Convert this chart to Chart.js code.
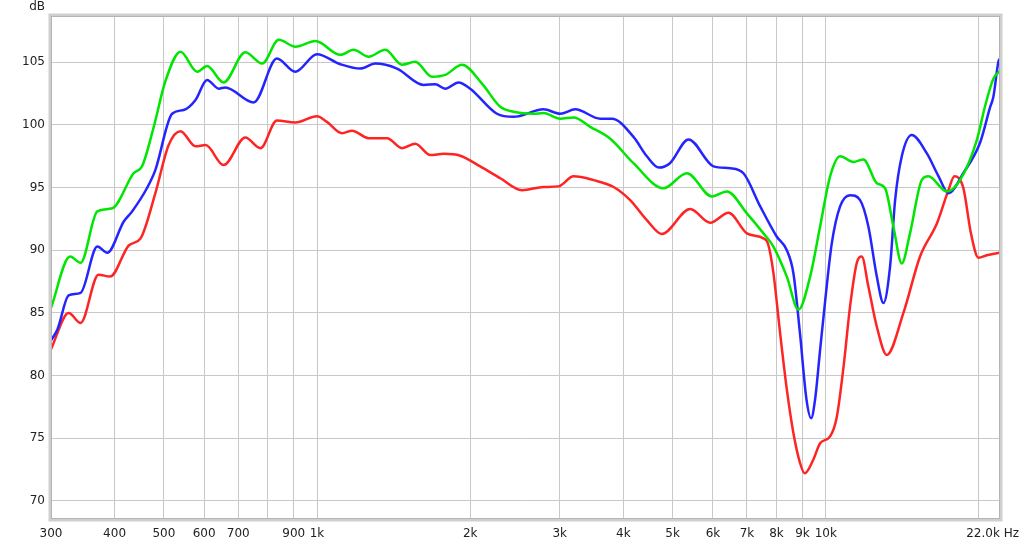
<!DOCTYPE html>
<html>
<head>
<meta charset="utf-8">
<script src="https://cdn.jsdelivr.net/npm/chart.js@4.4.0/dist/chart.umd.min.js"></script>
<style>
  html, body { margin: 0; padding: 0; background: #fff; }
  #wrap { width: 1024px; height: 544px; }
</style>
</head>
<body>
<div id="wrap"><canvas id="myChart"></canvas></div>
<script>
// frequency response, three traces (Hz / dB)
var greenFreq = [300, 327, 343, 370, 396, 436, 453, 478, 503, 539, 581, 608, 655, 723, 780, 841, 907, 993, 1111, 1180, 1263, 1362, 1469, 1560, 1683, 1787, 1927, 2110, 2292, 2434, 2665, 2788, 3006, 3193, 3443, 3770, 4188, 4797, 5333, 5970, 6392, 6997, 7542, 7889, 8383, 8836, 9316, 9746, 10198, 10669, 11336, 11857, 12598, 13079, 13578, 14105, 14640, 15440, 15910, 17290, 18360, 19810, 20560, 21350, 22000];
var greenDb = [85.4, 89.5, 89.0, 93.1, 93.35, 96.15, 96.7, 99.9, 103.45, 105.85, 104.25, 104.7, 103.4, 105.8, 104.9, 106.8, 106.25, 106.7, 105.6, 106.0, 105.45, 106.0, 104.8, 105.05, 103.85, 104.0, 104.8, 103.3, 101.45, 101.05, 100.9, 100.95, 100.5, 100.6, 99.85, 98.9, 96.95, 94.95, 96.15, 94.3, 94.7, 92.95, 91.35, 90.3, 87.9, 85.25, 87.9, 91.9, 95.9, 97.5, 97.05, 97.25, 95.35, 94.95, 91.9, 88.95, 91.35, 95.6, 95.9, 94.7, 95.6, 98.8, 101.5, 103.7, 104.3];

var blueFreq = [300, 309, 325, 343, 370, 387, 417, 433, 463, 481, 519, 547, 577, 608, 641, 660, 751, 834, 906, 1000, 1111, 1216, 1302, 1436, 1620, 1708, 1787, 1897, 2000, 2258, 2434, 2788, 3006, 3218, 3604, 3800, 4188, 4450, 4700, 4940, 5373, 6016, 6488, 6890, 7432, 8007, 8383, 8638, 8896, 9163, 9357, 9528, 9746, 9977, 10275, 10669, 11160, 11680, 12125, 12598, 12980, 13376, 13686, 14105, 14757, 15790, 16660, 17420, 18630, 20110, 21030, 21350, 21840, 22000];
var blueDb = [82.8, 83.7, 86.4, 86.6, 90.3, 89.8, 92.3, 93.1, 94.95, 96.4, 100.9, 101.2, 102.0, 103.6, 102.9, 103.0, 101.8, 105.3, 104.25, 105.65, 104.85, 104.5, 104.9, 104.5, 103.2, 103.25, 102.9, 103.4, 102.9, 100.9, 100.65, 101.25, 100.9, 101.25, 100.5, 100.5, 99.05, 97.5, 96.6, 96.95, 98.85, 96.7, 96.55, 96.15, 93.5, 91.1, 90.0, 88.15, 83.4, 78.1, 76.6, 78.1, 82.05, 86.05, 90.55, 93.5, 94.4, 94.0, 91.9, 87.9, 85.8, 88.7, 94.0, 97.5, 99.2, 97.75, 95.9, 94.55, 96.15, 98.6, 101.4, 102.25, 105.05, 105.3];

var redFreq = [300, 325, 343, 372, 392, 427, 450, 481, 511, 539, 577, 604, 655, 723, 774, 834, 906, 1000, 1046, 1120, 1172, 1263, 1373, 1469, 1560, 1670, 1774, 1912, 2093, 2292, 2528, 2788, 2983, 3193, 3495, 3828, 4126, 4450, 4760, 5414, 5926, 6439, 6997, 7542, 7702, 7889, 8132, 8383, 8638, 8903, 9089, 9454, 9746, 10198, 10511, 10840, 11160, 11508, 11770, 12125, 12598, 13180, 14210, 15320, 16540, 17420, 17900, 18630, 19290, 19960, 20720, 22000];
var redDb = [82.1, 85.0, 84.2, 88.05, 87.9, 90.4, 90.95, 94.55, 98.4, 99.5, 98.3, 98.4, 96.8, 99.0, 98.15, 100.35, 100.2, 100.7, 100.25, 99.35, 99.55, 98.95, 98.95, 98.15, 98.5, 97.6, 97.7, 97.55, 96.7, 95.75, 94.8, 95.05, 95.1, 95.9, 95.6, 95.05, 94.0, 92.4, 91.3, 93.3, 92.2, 93.0, 91.35, 90.95, 90.5, 88.2, 83.4, 78.9, 75.4, 73.0, 72.2, 73.3, 74.6, 75.15, 76.7, 80.75, 85.5, 89.0, 89.5, 87.1, 83.9, 81.65, 85.0, 89.5, 92.15, 94.8, 95.9, 95.0, 91.35, 89.4, 89.6, 89.8];

// axis ticks
var xTicks = [300, 400, 500, 600, 700, 800, 900, 1000, 2000, 3000, 4000, 5000, 6000, 7000, 8000, 9000, 10000, 20000, 22000];
var xTickLabels = ["300", "400", "500", "600", "700", "", "900", "1k", "2k", "3k", "4k", "5k", "6k", "7k", "8k", "9k", "10k", "", ""];
var yTicks = [70, 75, 80, 85, 90, 95, 100, 105];

function pts(fs, ds) {
    return fs.map(function (f, i) { return { x: f, y: ds[i] }; });
}

function trace(label, fs, ds, color) {
    return {
        label: label,
        data: pts(fs, ds),
        borderColor: color,
        borderWidth: 2.5,
        pointRadius: 0,
        fill: false,
        cubicInterpolationMode: "monotone"
    };
}

var FONT = "'DejaVu Sans', sans-serif";

var frame = {
    id: "frame",
    afterDraw: function (chart) {
        var ctx = chart.ctx, a = chart.chartArea;
        ctx.save();
        ctx.strokeStyle = "#cfcfcf";
        ctx.lineWidth = 3;
        ctx.strokeRect(a.left - 1, a.top - 1, a.right - a.left + 2, a.bottom - a.top + 2);
        ctx.strokeStyle = "#b4b4b4";
        ctx.lineWidth = 1;
        ctx.strokeRect(a.left + 0.5, a.top + 0.5, a.right - a.left - 1, a.bottom - a.top - 1);
        ctx.fillStyle = "#222";
        ctx.font = "12px " + FONT;
        ctx.textBaseline = "middle";
        ctx.textAlign = "right";
        ctx.fillText("dB", 45, 7);
        ctx.fillText("22.0k Hz", 1019, 534);
        ctx.restore();
    }
};

new Chart("myChart", {
    type: "line",
    data: {
        datasets: [
            trace("green", greenFreq, greenDb, "#00e600"),
            trace("blue", blueFreq, blueDb, "#2424ff"),
            trace("red", redFreq, redDb, "#ff2424")
        ]
    },
    options: {
        responsive: true,
        maintainAspectRatio: false,
        animation: false,
        layout: { padding: { top: 16, right: 24, left: 0, bottom: 0 } },
        plugins: { legend: { display: false }, tooltip: { enabled: false } },
        scales: {
            x: {
                type: "logarithmic",
                min: 300,
                max: 22000,
                afterBuildTicks: function (s) { s.ticks = xTicks.map(function (v) { return { value: v }; }); },
                afterFit: function (s) { s.height = 25; },
                grid: { color: "#c8c8c8", drawTicks: false },
                border: { display: false },
                ticks: {
                    autoSkip: false,
                    maxRotation: 0,
                    padding: 8,
                    color: "#222",
                    font: { family: FONT, size: 12 },
                    callback: function (v) {
                        var i = xTicks.indexOf(v);
                        return i < 0 ? "" : xTickLabels[i];
                    }
                }
            },
            y: {
                min: 68.55,
                max: 108.7,
                afterBuildTicks: function (s) { s.ticks = yTicks.map(function (v) { return { value: v }; }); },
                afterFit: function (s) { s.width = 51; },
                grid: { color: "#c8c8c8", drawTicks: false },
                border: { display: false },
                ticks: {
                    padding: 6,
                    color: "#222",
                    font: { family: FONT, size: 12 }
                }
            }
        }
    },
    plugins: [frame]
});
</script>
</body>
</html>
